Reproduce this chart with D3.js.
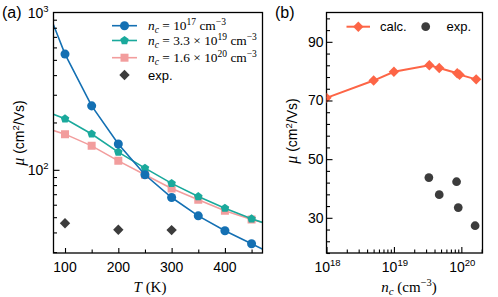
<!DOCTYPE html>
<html><head><meta charset="utf-8">
<script src="https://cdn.jsdelivr.net/npm/d3@7"></script>
<style>body{margin:0;background:#fff}svg{display:block}</style>
</head><body>
<script>
// ---- data ----
const tempBlue = [60, 100, 150, 200, 250, 300, 350, 400, 450, 500];
const muBlue   = [1200, 544, 255, 146, 93, 66.7, 51, 41, 33.9, 28];
const tempTeal = [50, 100, 150, 200, 250, 300, 350, 400, 450, 500];
const muTeal   = [245, 211, 169, 129.6, 102.5, 82, 67.6, 57, 48.8, 43];
const tempPink = [50, 100, 150, 200, 250, 300, 350, 400, 450, 500];
const muPink   = [190, 168.6, 142, 114, 93, 76, 64.5, 55, 48.3, 43.5];
const tempExp  = [100, 200, 300];
const muExp    = [45.8, 41.6, 41.4];
const ncCalc   = [1e18, 5e18, 1e19, 3.35e19, 4.7e19, 8.7e19, 9.4e19, 1.66e20];
const muCalc   = [70.9, 76.8, 79.8, 82.0, 81.1, 79.3, 78.8, 77.2];
const ncExp    = [3.3e19, 4.7e19, 8.5e19, 9.0e19, 1.6e20];
const muExpB   = [43.7, 37.9, 42.3, 33.5, 27.3];
const tTicks   = [100, 200, 300, 400];
const muTicksA = [100, 1000];
const ncTicks  = [1e18, 1e19, 1e20];
const muTicksB = [30, 50, 70, 90];

const W = 498, H = 297;
const svg = d3.select("body").append("svg").attr("width", W).attr("height", H);
const SANS = "'Liberation Sans', Arial, sans-serif";
const SERIF = "'Liberation Serif', 'Times New Roman', serif";
const cBlue = "#1470b3", cTeal = "#1aa99c", cPink = "#f29d9d", cDark = "#3c3c3c", cTom = "#fd6546";

const A = {x0: 53.5, x1: 262.5, y0: 12.5, y1: 253};
const B = {x0: 326.5, x1: 482.5, y0: 12.5, y1: 253};

const xA = d3.scaleLinear().domain([78.4, 470.5]).range([A.x0, A.x1]);
const yA = d3.scaleLog().domain([29.6, 1000]).range([A.y1, A.y0]);
const xB = d3.scaleLog().domain([1e18, 2.06e20]).range([B.x0, B.x1]);
const yB = d3.scaleLinear().domain([18, 100]).range([B.y1, B.y0]);

const defs = svg.append("defs");
[["clipA", A], ["clipB", B]].forEach(([id, p]) => {
  defs.append("clipPath").attr("id", id).append("rect")
    .attr("x", p.x0).attr("y", p.y0).attr("width", p.x1 - p.x0).attr("height", p.y1 - p.y0);
});

function pentagon(r) {
  const pts = d3.range(5).map(i => {
    const a = -Math.PI / 2 + i * 2 * Math.PI / 5;
    return [r * Math.cos(a), r * Math.sin(a)];
  });
  return "M" + pts.map(p => p.join(",")).join("L") + "Z";
}
function rhomb(r) { return `M0,${-r}L${r},0L0,${r}L${-r},0Z`; }
const sym = {
  circle: d3.symbol(d3.symbolCircle, 64)(),
  pent: pentagon(4.5),
  square: d3.symbol(d3.symbolSquare, 64)(),
  diamond: rhomb(5.2),
  diamondB: rhomb(5.2),
  dot: d3.symbol(d3.symbolCircle, 60)()
};

// ---- panel A ----
const gA = svg.append("g").attr("clip-path", "url(#clipA)");
function series(g, xs, ys, xsc, ysc, color, shape, lw) {
  const d = xs.map((x, i) => [x, ys[i]]);
  if (lw) g.append("path").datum(d).attr("fill", "none").attr("stroke", color).attr("stroke-width", lw)
    .attr("d", d3.line().x(p => xsc(p[0])).y(p => ysc(p[1])));
  g.selectAll(null).data(d).enter().append("path")
    .attr("d", shape).attr("fill", color)
    .attr("transform", p => `translate(${xsc(p[0])},${ysc(p[1])})`);
}
series(gA, tempPink, muPink, xA, yA, cPink, sym.square, 1.6);
series(gA, tempTeal, muTeal, xA, yA, cTeal, sym.pent, 1.6);
series(gA, tempBlue, muBlue, xA, yA, cBlue, sym.circle, 1.6);
series(gA, tempExp, muExp, xA, yA, cDark, sym.diamond, 0);

// axes A
const axA = svg.append("g").attr("transform", `translate(0,${A.y1})`)
  .call(d3.axisBottom(xA).tickValues(d3.range(100, 451, 50)).tickFormat("").tickSizeInner(-4).tickSizeOuter(0));
axA.selectAll(".tick line").attr("y2", d => d % 100 === 0 ? -5 : -3.5);
const minorA = [];
for (let dec of [10, 100]) for (let k = 1; k <= 9; k++) { const v = dec * k; if (v >= 29.6 && v <= 1000) minorA.push(v); }
const ayA = svg.append("g").attr("transform", `translate(${A.x0},0)`)
  .call(d3.axisLeft(yA).tickValues(minorA).tickFormat("").tickSizeInner(-3.5).tickSizeOuter(0));
ayA.selectAll(".tick line").attr("x2", d => (d === 100 || d === 1000) ? 6 : 3.5);
// frames
[A, B].forEach(p => svg.append("rect").attr("x", p.x0).attr("y", p.y0).attr("width", p.x1 - p.x0)
  .attr("height", p.y1 - p.y0).attr("fill", "none").attr("stroke", "#000").attr("stroke-width", 1.3));
svg.selectAll(".domain").remove();
svg.selectAll(".tick line").attr("stroke", "#000").attr("stroke-width", 1.1);

// tick labels A
svg.append("g").selectAll(null).data(tTicks).enter().append("text")
  .attr("x", d => xA(d)).attr("y", 272).attr("text-anchor", "middle")
  .attr("font-family", SANS).attr("font-size", 14).text(d => d);
function powLabel(g, x, y, exp, anchor, fs) {
  const t = g.append("text").attr("x", x).attr("y", y).attr("text-anchor", anchor)
    .attr("font-family", SANS).attr("font-size", fs);
  t.append("tspan").text("10");
  t.append("tspan").attr("dy", -6).attr("font-size", fs * 0.68).text(exp);
  return t;
}
muTicksA.forEach(v => powLabel(svg, A.x0 - 5, yA(v) + 5, Math.round(Math.log10(v)), "end", 14));

// ---- panel B ----
const gB = svg.append("g").attr("clip-path", "url(#clipB)");
series(gB, ncCalc, muCalc, xB, yB, cTom, sym.diamondB, 2);
series(gB, ncExp, muExpB, xB, yB, cDark, sym.dot, 0);

const minorB = [];
for (let e = 18; e <= 20; e++) for (let k = 1; k <= 9; k++) { const v = k * Math.pow(10, e); if (v >= 1e18 && v <= 2.06e20) minorB.push(v); }
const axB = svg.append("g").attr("transform", `translate(0,${B.y1})`)
  .call(d3.axisBottom(xB).tickValues(minorB).tickFormat("").tickSizeInner(-3.5).tickSizeOuter(0));
axB.selectAll(".tick line").attr("y2", (d, i) => ncTicks.some(t => Math.abs(t - d) / t < 1e-6) ? -6 : -3.5);
const ayB = svg.append("g").attr("transform", `translate(${B.x0},0)`)
  .call(d3.axisLeft(yB).tickValues(d3.range(18, 100.1, 4)).tickFormat("").tickSizeInner(-3.5).tickSizeOuter(0));
ayB.selectAll(".tick line").attr("x2", d => muTicksB.includes(d) ? 6 : 3.5);
svg.selectAll(".domain").remove();
svg.selectAll(".tick line").attr("stroke", "#000").attr("stroke-width", 1.1);

ncTicks.forEach(v => powLabel(svg, xB(v) + 1, 271.5, Math.round(Math.log10(v)), "middle", 14));
svg.append("g").selectAll(null).data(muTicksB).enter().append("text")
  .attr("x", B.x0 - 3).attr("y", d => yB(d) + 5).attr("text-anchor", "end")
  .attr("font-family", SANS).attr("font-size", 14).text(d => d);

// ---- panel labels ----
svg.append("text").attr("x", 2).attr("y", 18).attr("font-family", SANS).attr("font-size", 16).text("(a)");
svg.append("text").attr("x", 275).attr("y", 18).attr("font-family", SANS).attr("font-size", 16).text("(b)");

// ---- axis titles ----
function muTitle(x, y) {
  const t = svg.append("text").attr("transform", `translate(${x},${y}) rotate(-90)`)
    .attr("text-anchor", "middle").attr("font-size", 14).attr("font-family", SANS);
  t.append("tspan").attr("font-family", SERIF).attr("font-style", "italic").attr("font-size", 16).text("μ");
  t.append("tspan").text(" (cm");
  t.append("tspan").attr("dy", -5).attr("font-size", 9.5).text("2");
  t.append("tspan").attr("dy", 5).text("/Vs)");
}
muTitle(24, 133);
muTitle(297, 131);

const tT = svg.append("text").attr("x", 150).attr("y", 292).attr("text-anchor", "middle")
  .attr("font-family", SERIF).attr("font-size", 15);
tT.append("tspan").attr("font-style", "italic").text("T");
tT.append("tspan").text(" (K)");

const tN = svg.append("text").attr("x", 409).attr("y", 292).attr("text-anchor", "middle")
  .attr("font-family", SERIF).attr("font-size", 15);
tN.append("tspan").attr("font-style", "italic").text("n");
tN.append("tspan").attr("font-style", "italic").attr("dy", 3).attr("font-size", 11).text("c");
tN.append("tspan").attr("dy", -3).text(" (cm");
tN.append("tspan").attr("dy", -6).attr("font-size", 10.5).text("−3");
tN.append("tspan").attr("dy", 6).text(")");

// ---- legend A ----
const legA = [
  {color: cBlue, shape: sym.circle, coef: null, exp: "17", line: true},
  {color: cTeal, shape: sym.pent, coef: "3.3", exp: "19", line: true},
  {color: cPink, shape: sym.square, coef: "1.6", exp: "20", line: true},
  {color: cDark, shape: sym.diamond, line: false}
];
const legY = [25.7, 40.5, 57.7, 75];
legA.forEach((d, i) => {
  const y = legY[i];
  if (d.line) svg.append("line").attr("x1", 112).attr("x2", 137).attr("y1", y).attr("y2", y)
    .attr("stroke", d.color).attr("stroke-width", 1.6);
  svg.append("path").attr("d", d.shape).attr("fill", d.color).attr("transform", `translate(124.5,${y})`);
  if (!d.line) {
    svg.append("text").attr("x", 148).attr("y", y + 4.5).attr("font-family", SANS).attr("font-size", 13).text("exp.");
    return;
  }
  const t = svg.append("text").attr("x", 148).attr("y", y + 4.5).attr("font-family", SERIF).attr("font-size", 13.4);
  t.append("tspan").attr("font-style", "italic").text("n");
  t.append("tspan").attr("font-style", "italic").attr("dy", 2.5).attr("font-size", 9.5).text("c");
  t.append("tspan").attr("dy", -2.5).text(d.coef ? ` = ${d.coef} × 10` : " = 10");
  t.append("tspan").attr("dy", -5).attr("font-size", 9.5).text(d.exp);
  t.append("tspan").attr("dy", 5).text(" cm");
  t.append("tspan").attr("dy", -5).attr("font-size", 9.5).text("−3");
});

// ---- legend B ----
svg.append("line").attr("x1", 346.5).attr("x2", 370).attr("y1", 26.7).attr("y2", 26.7)
  .attr("stroke", cTom).attr("stroke-width", 2);
svg.append("path").attr("d", sym.diamondB).attr("fill", cTom).attr("transform", "translate(358.3,26.7)");
svg.append("text").attr("x", 380).attr("y", 31).attr("font-family", SANS).attr("font-size", 13).text("calc.");
svg.append("path").attr("d", sym.dot).attr("fill", cDark).attr("transform", "translate(425.7,26.7)");
svg.append("text").attr("x", 446.5).attr("y", 31).attr("font-family", SANS).attr("font-size", 13).text("exp.");
</script>
</body></html>
